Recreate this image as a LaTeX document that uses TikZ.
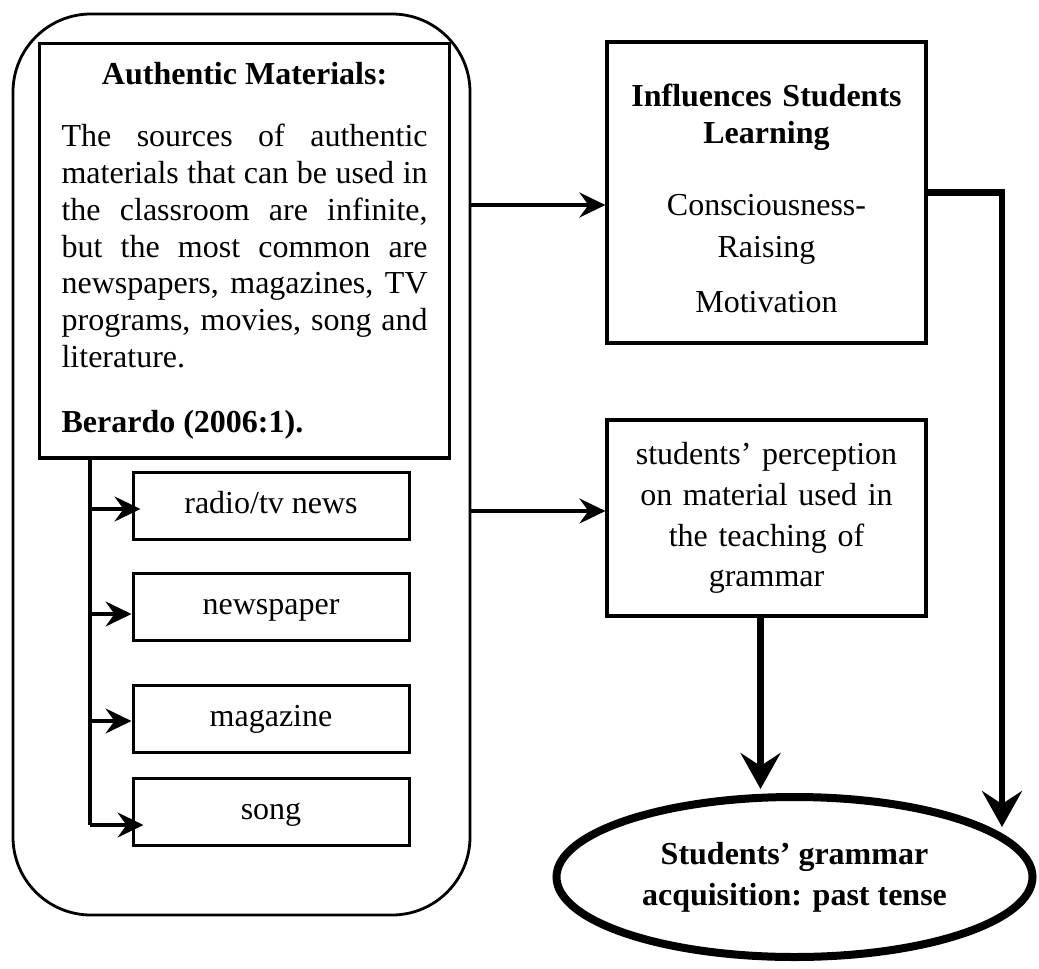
\documentclass[tikz,border=0pt]{standalone}
\usepackage{fontspec}
\setmainfont{Liberation Serif}
\usetikzlibrary{arrows.meta,shapes.geometric}
\setlength{\parindent}{0pt}
\begin{document}
\begin{tikzpicture}[x=1pt,y=-1pt,
	font=\fontsize{32}{36.8}\selectfont,
	framebox/.style={draw,line width=2.8pt,rounded corners=78pt,minimum width=457pt,minimum height=901pt},
	mainbox/.style={draw,line width=3.2pt,inner sep=0pt},
	itembox/.style={draw,line width=3pt,minimum width=276pt,minimum height=67pt,text height=22pt,text depth=7pt,inner sep=0pt},
	arr/.style={line width=3.2pt,-{Stealth[length=26pt,width=25pt,inset=9pt]}},
	fatarr/.style={line width=6.5pt,-{Stealth[length=36pt,width=40pt,inset=13pt]}},
	goalbox/.style={draw,ellipse,line width=8pt,minimum width=476pt,minimum height=160pt,align=center,font=\fontsize{32}{41}\selectfont\bfseries}]
	\useasboundingbox (0,0) rectangle (1039,969);
	
	\node[framebox] (frame) at (241.5,464.5){};
	\node[mainbox,anchor=north west,minimum width=410pt,text width=366pt,inner xsep=22pt,inner ysep=19pt,align=justify] (auth) at (38,42){%
		{\centering\textbf{Authentic Materials:}\par}\vspace{25pt}%
		The sources of authentic\linebreak
		materials that can be used in\linebreak
		the classroom are infinite,\linebreak
		but the most common are\linebreak
		newspapers, magazines, TV\linebreak
		programs, movies, song and\linebreak
		literature.\par\vspace{28pt}%
		\textbf{Berardo (2006:1).}};
	
	\node[itembox] (radio) at (271,505.5){radio/tv news};
	\node[itembox] (news) at (271,607){newspaper};
	\node[itembox] (mag) at (271,718.5){magazine};
	\node[itembox] (song) at (271,812){song};
	
	\node[mainbox,minimum width=319pt,minimum height=301pt,text width=290pt,align=center] (infl) at (766.5,192.5){%
		\rule{0pt}{35pt}\textbf{Influences Students}\\\textbf{Learning}\\[35pt]Consciousness-\\[5pt]Raising\\[19pt]Motivation};
	\node[mainbox,minimum width=319pt,minimum height=196pt,text width=300pt,align=center] (perc) at (766.5,518){%
		students’ perception\\[4pt]on material used in\\[4pt]the teaching of\\[4pt]grammar};
	\node[goalbox] (goal) at (794.5,877){Students’ grammar\\acquisition: past tense};
	
	% trunk and branches
	\coordinate (tr) at ([xshift=52pt]auth.south west);
	\coordinate (s4) at ([yshift=-13pt]song.west);
	\draw[line width=3.2pt] (tr) -- (tr |- s4);
	\foreach \b/\s/\x in {radio/-3.5/9,news/-7/0,mag/-2.5/0,song/-13/12}{
		\coordinate (p) at ([yshift=\s pt,xshift=\x pt]\b.west);
		\draw[arr] (p -| tr) -- (p);
	}
	
	\coordinate (a1) at ([yshift=-12.5pt]infl.west);
	\coordinate (a2) at ([yshift=7pt]perc.west);
	\draw[arr] (a1 -| frame.east) -- (a1);
	\draw[arr] (a2 -| frame.east) -- (a2);
	
	\coordinate (tipr) at (1002,827);
	\draw[fatarr] (infl.east) -| (tipr);
	\coordinate (pm) at ([xshift=-6pt]perc.south);
	\coordinate (tipm) at ([yshift=4pt]goal.north);
	\draw[fatarr] (pm) -- (pm |- tipm);
\end{tikzpicture}
\end{document}
